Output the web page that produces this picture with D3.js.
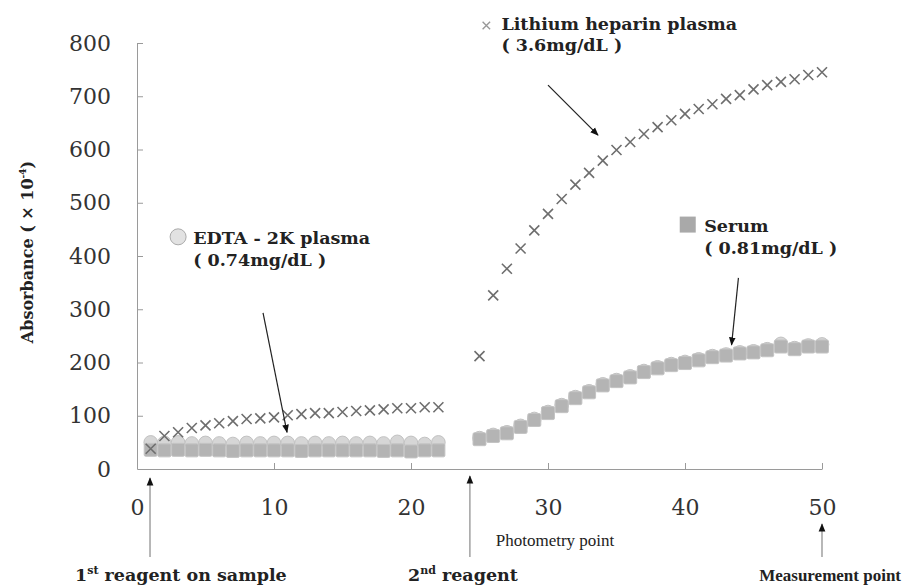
<!DOCTYPE html>
<html>
<head>
  <meta charset="UTF-8">
  <title>Absorbance vs photometry point</title>
  <script src="https://cdnjs.cloudflare.com/ajax/libs/d3/7.8.5/d3.min.js"></script>
  <style>
    body { margin: 0; background: #fff; }
    text { font-family: "DejaVu Serif", "Liberation Serif", serif; fill: #222; }
    .axis path, .axis line { stroke: #9a9a9a; }
    .axis text { font-size: 22px; fill: #333; }
    .lbl { font-weight: bold; font-size: 17.5px; }
    .narrow { font-family: "Liberation Serif", serif; }
  </style>
</head>
<body>
<script>
  // photometry points (first reagent phase, second reagent phase)
  var ptsA = [1,2,3,4,5,6,7,8,9,10,11,12,13,14,15,16,17,18,19,20,21,22];
  var ptsB = [25,26,27,28,29,30,31,32,33,34,35,36,37,38,39,40,41,42,43,44,45,46,47,48,49,50];

  // absorbance x10^-4
  var lithiumA = [38,62,69,77,82,86,90,94,95,97,101,103,105,105,107,109,110,112,114,114,116,116];
  var lithiumB = [212,326,376,414,448,479,507,534,556,579,599,614,629,642,655,667,676,685,695,702,713,721,727,732,740,745];
  var edtaA = [50,49,50,48,49,48,47,49,48,49,49,48,49,48,49,48,49,48,51,49,47,50];
  var edtaB = [58,64,69,81,94,107,120,135,146,159,167,174,184,191,197,201,206,212,215,219,221,225,235,227,232,234];
  var serumA = [36,35,36,35,36,35,34,35,35,35,35,34,35,35,35,35,35,34,35,33,35,35];
  var serumB = [56,62,67,79,92,105,118,133,144,157,165,172,182,189,195,199,204,210,213,217,219,223,230,225,230,230];

  var xTicks = [0,10,20,30,40,50];
  var yTicks = [0,100,200,300,400,500,600,700,800];

  var width = 904, height = 587;
  var svg = d3.select('body').append('svg')
    .attr('width', width).attr('height', height);

  var x = d3.scaleLinear().domain([0,50]).range([137,822]);
  var y = d3.scaleLinear().domain([0,800]).range([469,43]);

  function pairs(xs, ys){ return xs.map(function(p,i){ return {x:p, y:ys[i]}; }); }
  var lithium = pairs(ptsA, lithiumA).concat(pairs(ptsB, lithiumB));
  var edta = pairs(ptsA, edtaA).concat(pairs(ptsB, edtaB));
  var serum = pairs(ptsA, serumA).concat(pairs(ptsB, serumB));

  // arrowhead
  var defs = svg.append('defs');
  defs.append('marker').attr('id','ah')
    .attr('viewBox','0 0 10 10').attr('refX',9).attr('refY',5)
    .attr('markerWidth',7).attr('markerHeight',7).attr('orient','auto')
    .append('path').attr('d','M0,1 L10,5 L0,9 Z').attr('fill','#111');

  // axes
  svg.append('g').attr('class','axis')
    .attr('transform','translate(' + x(0) + ',0)')
    .call(d3.axisLeft(y).tickValues(yTicks).tickSize(-6).tickSizeOuter(0).tickPadding(26).tickFormat(d3.format('d')));
  svg.append('g').attr('class','axis')
    .attr('transform','translate(0,' + y(0) + ')')
    .call(d3.axisBottom(x).tickValues(xTicks).tickSize(-6).tickSizeOuter(0).tickPadding(30).tickFormat(d3.format('d')));
  svg.selectAll('.axis .tick').filter(function(d){ return d === 0; }).select('line').remove();

  // EDTA circles
  svg.append('g').selectAll('circle').data(edta).join('circle')
    .attr('cx', function(d){ return x(d.x); })
    .attr('cy', function(d){ return y(d.y); })
    .attr('r', 6.8)
    .attr('fill', '#d6d6d6').attr('stroke', '#c2c2c2').attr('stroke-width', 1);

  // serum squares
  svg.append('g').selectAll('rect').data(serum).join('rect')
    .attr('x', function(d){ return x(d.x) - 6.5; })
    .attr('y', function(d){ return y(d.y) - 6.5; })
    .attr('width', 13).attr('height', 13).attr('rx', 1.5)
    .attr('fill', '#b4b4b4').attr('stroke', '#c4c4c4').attr('stroke-width', 1);

  // lithium crosses
  var cross = 'M-5,-5L5,5M-5,5L5,-5';
  svg.append('g').selectAll('path').data(lithium).join('path')
    .attr('transform', function(d){ return 'translate(' + x(d.x) + ',' + y(d.y) + ')'; })
    .attr('d', cross)
    .attr('stroke', '#6e6e6e').attr('stroke-width', 1.6).attr('fill', 'none');

  // series labels
  svg.append('path').attr('d', cross)
    .attr('transform', 'translate(' + x(25.5) + ',' + y(833) + ') scale(0.75)')
    .attr('stroke', '#999').attr('stroke-width', 1.8);
  svg.append('text').attr('class','lbl').attr('x', x(26.6)).attr('y', y(825)).text('Lithium heparin plasma');
  svg.append('text').attr('class','lbl').attr('x', x(26.6)).attr('y', y(785)).text('( 3.6mg/dL )');

  svg.append('circle').attr('cx', x(3)).attr('cy', y(436)).attr('r', 8)
    .attr('fill', '#e2e2e2').attr('stroke', '#aaa');
  svg.append('text').attr('class','lbl').attr('x', x(4.1)).attr('y', y(423)).text('EDTA  -  2K plasma');
  svg.append('text').attr('class','lbl').attr('x', x(4.1)).attr('y', y(382)).text('( 0.74mg/dL )');

  svg.append('rect').attr('x', x(40.2) - 8).attr('y', y(459) - 8).attr('width', 16).attr('height', 16)
    .attr('fill', '#a9a9a9');
  svg.append('text').attr('class','lbl').attr('x', x(41.4)).attr('y', y(445)).text('Serum');
  svg.append('text').attr('class','lbl').attr('x', x(41.4)).attr('y', y(404)).text('( 0.81mg/dL )');

  // annotation arrows (data units)
  var arrows = [
    {x1:30.0, y1:721, x2:33.65, y2:627},
    {x1:9.2,  y1:293, x2:10.95, y2:69},
    {x1:43.9, y1:359, x2:43.4,  y2:233}
  ];
  svg.append('g').selectAll('line').data(arrows).join('line')
    .attr('x1', function(d){ return x(d.x1); }).attr('y1', function(d){ return y(d.y1); })
    .attr('x2', function(d){ return x(d.x2); }).attr('y2', function(d){ return y(d.y2); })
    .attr('stroke', '#222').attr('stroke-width', 1.2).attr('marker-end', 'url(#ah)');

  // event arrows below the axis
  var events = [
    {p:0.95, top:478, bottom:557},
    {p:24.3, top:476, bottom:557},
    {p:50,   top:524, bottom:557}
  ];
  svg.append('g').selectAll('line').data(events).join('line')
    .attr('x1', function(d){ return x(d.p); }).attr('x2', function(d){ return x(d.p); })
    .attr('y1', function(d){ return d.bottom; }).attr('y2', function(d){ return d.top; })
    .attr('stroke', '#888').attr('stroke-width', 1.2).attr('marker-end', 'url(#ah)');

  var t1 = svg.append('text').attr('class','lbl').attr('x', 75).attr('y', 581);
  t1.append('tspan').text('1');
  t1.append('tspan').attr('font-size', '11px').attr('dy', -7).text('st');
  t1.append('tspan').attr('dy', 7).text(' reagent on sample');

  var t2 = svg.append('text').attr('class','lbl').attr('x', 408).attr('y', 581);
  t2.append('tspan').text('2');
  t2.append('tspan').attr('font-size', '11px').attr('dy', -7).text('nd');
  t2.append('tspan').attr('dy', 7).text(' reagent');

  svg.append('text').attr('class','lbl narrow').attr('x', 901).attr('y', 581)
    .attr('text-anchor', 'end').style('font-size', '17px')
    .text('Measurement point');

  svg.append('text').attr('class','narrow').attr('x', 555).attr('y', 546).attr('text-anchor', 'middle')
    .attr('font-size', '17px').text('Photometry point');

  var yt = svg.append('text').attr('transform', 'translate(33,252) rotate(-90)')
    .attr('text-anchor', 'middle').attr('font-size', '16px').attr('font-weight', 'bold');
  yt.append('tspan').text('Absorbance ( × 10');
  yt.append('tspan').attr('font-size', '9px').attr('dy', -7).text('-4');
  yt.append('tspan').attr('dy', 7).text(')');
</script>
</body>
</html>
